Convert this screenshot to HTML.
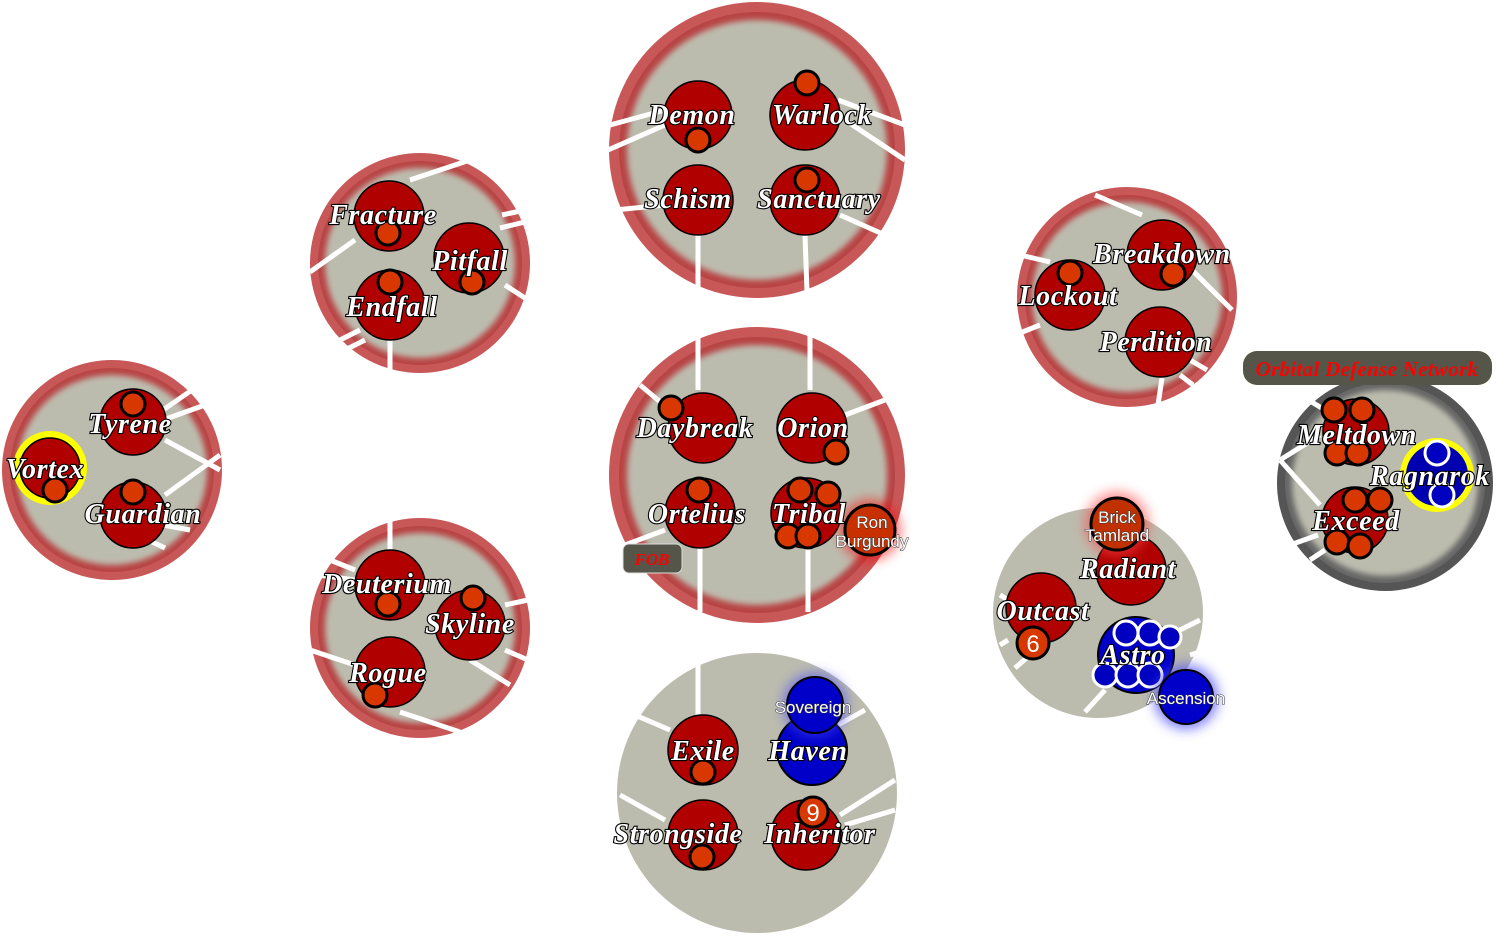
<!DOCTYPE html>
<html><head><meta charset="utf-8"><style>
html,body{margin:0;padding:0;background:#fff;width:1497px;height:942px;overflow:hidden}
svg{display:block}
.t{font-family:"Liberation Serif",serif;font-style:italic;font-weight:bold;font-size:28px;fill:#fff;stroke:#000;stroke-width:2.2px;paint-order:stroke;text-anchor:middle;letter-spacing:0.6px}
.s{font-family:"Liberation Sans",sans-serif;font-size:17px;fill:#fff;stroke:#333;stroke-width:1px;paint-order:stroke;text-anchor:middle}
.n{fill:#b00000;stroke:#000;stroke-width:1.5}
.o{fill:#d83800;stroke:#000;stroke-width:3}
.b{fill:#0000c8;stroke:#000;stroke-width:2}
.bw{fill:#0000c0;stroke:#fff;stroke-width:3}
.sp{stroke:#fff;stroke-width:5;fill:none}
.rr{fill:#c85858}
.ri{fill:#b84444}
.g{fill:#bcbcae}
</style></head><body>
<svg width="1497" height="942" viewBox="0 0 1497 942">
<defs>
<filter id="bl" x="-10%" y="-10%" width="120%" height="120%"><feGaussianBlur stdDeviation="3"/></filter>
<filter id="gl" x="-60%" y="-60%" width="220%" height="220%"><feGaussianBlur stdDeviation="6"/></filter>
</defs>

<g>
<circle class="rr" cx="757" cy="150" r="148"/><circle class="ri" cx="757" cy="150" r="138"/><circle class="g" cx="757" cy="150" r="130" filter="url(#bl)"/>
<circle class="rr" cx="757" cy="475" r="148"/><circle class="ri" cx="757" cy="475" r="138"/><circle class="g" cx="757" cy="475" r="130" filter="url(#bl)"/>
<circle class="rr" cx="420" cy="263" r="110"/><circle class="ri" cx="420" cy="263" r="102"/><circle class="g" cx="420" cy="263" r="95" filter="url(#bl)"/>
<circle class="rr" cx="420" cy="628" r="110"/><circle class="ri" cx="420" cy="628" r="102"/><circle class="g" cx="420" cy="628" r="95" filter="url(#bl)"/>
<circle class="rr" cx="112" cy="470" r="110"/><circle class="ri" cx="112" cy="470" r="102"/><circle class="g" cx="112" cy="470" r="95" filter="url(#bl)"/>
<circle class="rr" cx="1127" cy="297" r="110"/><circle class="ri" cx="1127" cy="297" r="102"/><circle class="g" cx="1127" cy="297" r="95" filter="url(#bl)"/>
<circle fill="#555" cx="1385" cy="483" r="108"/><circle fill="#666" cx="1385" cy="483" r="100"/><circle class="g" cx="1385" cy="483" r="93" filter="url(#bl)"/>
<circle class="g" cx="757" cy="793" r="140"/>
<circle class="g" cx="1098" cy="613" r="105"/>
</g>

<g class="sp">
<path d="M665 110 L610 125 M665 125 L608 150 M665 205 L615 210 M698 235 L698 292 M805 235 L807 292 M840 215 L885 235 M838 100 L905 125 M845 120 L905 160"/>
<path d="M698 390 L698 335 M810 390 L810 335 M670 410 L640 385 M845 415 L885 400 M665 530 L625 545 M700 548 L700 612 M808 548 L808 612"/>
<path d="M410 180 L470 160 M502 215 L525 210 M500 228 L525 222 M355 240 L310 272 M505 285 L528 300 M360 330 L340 340 M365 340 L345 350 M390 338 L390 372"/>
<path d="M390 550 L390 520 M355 570 L330 560 M355 580 L318 575 M505 605 L528 600 M505 650 L528 660 M470 660 L510 685 M355 665 L310 650 M400 712 L460 732"/>
<path d="M163 410 L192 390 M163 420 L205 405 M165 440 L220 470 M165 495 L220 455 M163 525 L190 530 M148 540 L165 548"/>
<path d="M1142 215 L1095 195 M1050 262 L1020 255 M1040 325 L1015 335 M1192 270 L1232 310 M1190 360 L1207 370 M1180 375 L1193 385 M1162 378 L1158 405"/>
<path d="M1325 410 L1300 395 M1320 435 L1280 460 M1320 505 L1280 460 M1318 535 L1290 545 M1325 550 L1310 560"/>
<path d="M698 718 L698 665 M670 730 L635 715 M665 820 L620 795 M838 725 L865 710 M840 815 L895 780 M845 825 L895 810"/>
<path d="M1008 600 L1000 595 M1008 640 L1000 645 M1030 655 L1015 668 M1180 630 L1200 620 M1105 690 L1085 712 M1190 655 L1200 652"/>
</g>

<circle class="n" cx="698" cy="115" r="34"/><circle class="o" cx="698" cy="140" r="12"/>
<circle class="n" cx="805" cy="115" r="35"/><circle class="o" cx="807" cy="83" r="12"/>
<circle class="n" cx="698" cy="200" r="35"/>
<circle class="n" cx="805" cy="200" r="35"/><circle class="o" cx="807" cy="180" r="12"/>
<text class="t" x="692" y="124">Demon</text><text class="t" x="822" y="124">Warlock</text>
<text class="t" x="688" y="208">Schism</text><text class="t" x="819" y="208">Sanctuary</text>

<circle class="n" cx="703" cy="428" r="35"/><circle class="o" cx="671" cy="408" r="12"/>
<circle class="n" cx="812" cy="428" r="35"/><circle class="o" cx="836" cy="452" r="12"/>
<circle class="n" cx="700" cy="513" r="35"/><circle class="o" cx="699" cy="490" r="12"/>
<circle class="n" cx="806" cy="513" r="35"/>
<circle class="o" cx="800" cy="490" r="12"/><circle class="o" cx="828" cy="494" r="12"/><circle class="o" cx="788" cy="536" r="12"/><circle class="o" cx="808" cy="536" r="12"/>
<circle fill="#f00" opacity="0.6" cx="870" cy="530" r="30" filter="url(#gl)"/>
<circle fill="#c83000" stroke="#000" stroke-width="3" cx="870" cy="530" r="25"/>
<text class="t" x="695" y="437">Daybreak</text><text class="t" x="813" y="437">Orion</text>
<text class="t" x="697" y="523">Ortelius</text><text class="t" x="809" y="523">Tribal</text>
<text class="s" x="872" y="528">Ron</text><text class="s" x="872" y="547">Burgundy</text>
<rect x="623" y="544" width="59" height="29" rx="6" fill="#55554a" stroke="#ddd" stroke-width="1"/>
<text x="652" y="565" font-family="Liberation Serif,serif" font-style="italic" font-weight="bold" font-size="17" fill="#f00" text-anchor="middle">FOB</text>

<circle class="n" cx="703" cy="750" r="35"/><circle class="o" cx="703" cy="772" r="12"/>
<circle class="b" cx="812" cy="750" r="35"/>
<circle fill="#44f" opacity="0.6" cx="815" cy="705" r="32" filter="url(#gl)"/>
<circle class="b" cx="815" cy="705" r="28" stroke-width="3"/>
<circle class="n" cx="703" cy="835" r="35"/><circle class="o" cx="702" cy="857" r="12"/>
<circle class="n" cx="806" cy="835" r="35"/><circle class="o" cx="813" cy="812" r="15"/>
<text class="s" x="813" y="713">Sovereign</text>
<text class="t" x="703" y="760">Exile</text><text class="t" x="808" y="760">Haven</text>
<text class="t" x="678" y="843">Strongside</text><text class="t" x="820" y="843">Inheritor</text>
<text x="813" y="821" font-family="Liberation Sans,sans-serif" font-size="24" fill="#fff" text-anchor="middle">9</text>

<circle class="n" cx="389" cy="216" r="35"/><circle class="o" cx="388" cy="233" r="12"/>
<circle class="n" cx="469" cy="258" r="35"/><circle class="o" cx="472" cy="282" r="12"/>
<circle class="n" cx="390" cy="305" r="35"/><circle class="o" cx="390" cy="282" r="12"/>
<text class="t" x="383" y="224">Fracture</text><text class="t" x="470" y="270">Pitfall</text><text class="t" x="392" y="316">Endfall</text>

<circle class="n" cx="390" cy="585" r="35"/><circle class="o" cx="388" cy="604" r="12"/>
<circle class="n" cx="470" cy="625" r="35"/><circle class="o" cx="473" cy="598" r="12"/>
<circle class="n" cx="390" cy="672" r="35"/><circle class="o" cx="375" cy="695" r="12"/>
<text class="t" x="387" y="593">Deuterium</text><text class="t" x="470" y="633">Skyline</text><text class="t" x="388" y="682">Rogue</text>

<circle class="n" cx="133" cy="422" r="33"/><circle class="o" cx="133" cy="404" r="12"/>
<circle fill="#ff0" cx="50" cy="468" r="37"/><circle class="n" cx="50" cy="468" r="30"/><circle class="o" cx="55" cy="490" r="12"/>
<circle class="n" cx="133" cy="515" r="33"/><circle class="o" cx="133" cy="492" r="12"/>
<text class="t" x="130" y="433">Tyrene</text><text class="t" x="45" y="478">Vortex</text><text class="t" x="143" y="523">Guardian</text>

<circle class="n" cx="1162" cy="255" r="35"/><circle class="o" cx="1173" cy="274" r="12"/>
<circle class="n" cx="1070" cy="295" r="35"/><circle class="o" cx="1070" cy="273" r="12"/>
<circle class="n" cx="1160" cy="342" r="35"/>
<text class="t" x="1162" y="263">Breakdown</text><text class="t" x="1068" y="305">Lockout</text><text class="t" x="1156" y="351">Perdition</text>

<rect x="1243" y="351" width="249" height="34" rx="14" fill="#55554a"/>
<text x="1367" y="376" font-family="Liberation Serif,serif" font-style="italic" font-weight="bold" font-size="21" fill="#f00" text-anchor="middle" letter-spacing="0.3">Orbital Defense Network</text>
<circle class="n" cx="1356" cy="432" r="33"/>
<circle class="o" cx="1334" cy="410" r="12"/><circle class="o" cx="1362" cy="410" r="12"/><circle class="o" cx="1337" cy="453" r="12"/><circle class="o" cx="1358" cy="453" r="12"/>
<circle class="n" cx="1355" cy="520" r="33"/>
<circle class="o" cx="1355" cy="500" r="12"/><circle class="o" cx="1380" cy="500" r="12"/><circle class="o" cx="1337" cy="542" r="12"/><circle class="o" cx="1360" cy="546" r="12"/>
<circle fill="#ff0" cx="1437" cy="475" r="37"/><circle fill="#0000b0" cx="1437" cy="475" r="31"/>
<circle class="bw" cx="1437" cy="453" r="12"/><circle class="bw" cx="1442" cy="495" r="12"/>
<text class="t" x="1357" y="444">Meltdown</text><text class="t" x="1430" y="485">Ragnarok</text><text class="t" x="1356" y="530">Exceed</text>

<circle class="n" cx="1131" cy="570" r="35"/>
<circle class="n" cx="1041" cy="608" r="35"/>
<circle class="o" cx="1033" cy="643" r="16"/>
<text x="1033" y="652" font-family="Liberation Sans,sans-serif" font-size="24" fill="#fff" text-anchor="middle">6</text>
<circle fill="#f44" opacity="0.6" cx="1117" cy="524" r="32" filter="url(#gl)"/>
<circle fill="#c03000" stroke="#000" stroke-width="3" cx="1117" cy="524" r="26"/>
<circle class="b" cx="1136" cy="655" r="38"/>
<circle class="bw" cx="1126" cy="633" r="12"/><circle class="bw" cx="1150" cy="633" r="12"/><circle class="bw" cx="1170" cy="637" r="11"/>
<circle class="bw" cx="1105" cy="675" r="12"/><circle class="bw" cx="1128" cy="675" r="12"/><circle class="bw" cx="1150" cy="675" r="12"/>
<circle fill="#44f" opacity="0.7" cx="1186" cy="697" r="32" filter="url(#gl)"/>
<circle class="b" cx="1186" cy="697" r="27" stroke-width="3"/>
<text class="s" x="1117" y="523">Brick</text><text class="s" x="1117" y="541">Tamland</text>
<text class="t" x="1128" y="578">Radiant</text><text class="t" x="1043" y="620">Outcast</text><text class="t" x="1133" y="664">Astro</text>
<text class="s" x="1186" y="704">Ascension</text>
</svg>
</body></html>
